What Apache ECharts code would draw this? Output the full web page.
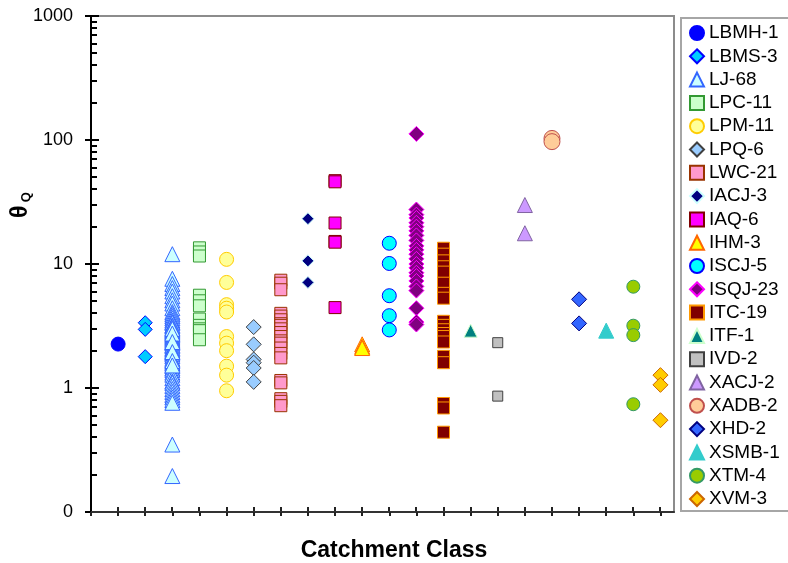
<!DOCTYPE html>
<html>
<head>
<meta charset="utf-8">
<script src="https://cdn.jsdelivr.net/npm/echarts@6/dist/echarts.min.js"></script>
<style>html,body{margin:0;padding:0;background:#fff}#c{width:788px;height:563px}</style>
</head>
<body>
<div id="c"></div>
<script>
// ---- categories (catchment classes) ----
const categories = ['LBMH-1','LBMS-3','LJ-68','LPC-11','LPM-11','LPQ-6','LWC-21','IACJ-3','IAQ-6','IHM-3','ISCJ-5','ISQJ-23','ITC-19','ITF-1','IVD-2','XACJ-2','XADB-2','XHD-2','XSMB-1','XTM-4','XVM-3'];

// ---- series values (theta Q) ----
const LBMH_1 = [2.26];
const LBMS_3 = [3.36, 2.97, 1.79];
const LJ_68 = [12.0, 7.6, 6.9, 6.4, 6.0, 5.5, 5.1, 4.8, 4.4, 4.1, 3.95, 3.8, 3.65, 3.5, 3.4, 3.35, 3.2, 3.15, 3.05, 2.95,
  2.9, 2.85, 2.8, 2.72, 2.66, 2.6, 2.55, 2.5, 2.45, 2.4, 2.33, 2.3, 2.22, 2.18, 2.1, 2.05, 2.0, 1.96, 1.9, 1.86,
  1.8, 1.72, 1.68, 1.6, 1.57, 1.5, 1.44, 1.4, 1.33, 1.28, 1.2, 1.13, 1.1, 1.04, 0.98, 0.93, 0.88, 0.84, 0.8, 0.76,
  3.0, 2.75, 2.35, 1.95, 1.65, 1.52, 0.35, 0.195];
const LPC_11 = [13.5, 12.5, 11.6, 5.6, 5.05, 4.6, 3.6, 3.2, 3.0, 2.9, 2.45];
const LPM_11 = [10.9, 7.1, 4.7, 4.4, 4.1, 2.6, 2.3, 2.0, 1.5, 1.27, 0.95];
const LPQ_6 = [3.1, 2.25, 1.7, 1.6, 1.45, 1.12];
const LWC_21 = [7.4, 7.0, 6.2, 4.0, 3.8, 3.55, 3.3, 3.2, 3.0, 2.8, 2.6, 2.4, 2.3, 2.1, 1.9, 1.75, 1.15, 1.1, 0.82, 0.78, 0.72];
const IACJ_3 = [23.2, 10.6, 7.1];
const IAQ_6 = [47, 46, 21.4, 15.2, 15.0, 4.45];
const IHM_3 = [2.25, 2.15, 2.1];
const ISCJ_5 = [14.7, 10.1, 5.55, 3.83, 2.94];
const ISQJ_23 = [112, 27.5, 25, 23.5, 21.5, 20, 18.5, 17, 15.5, 14, 13, 12, 11, 10, 9.3, 8.5, 8, 7.3, 6.6, 6.1, 4.4, 3.4, 3.25];
const ITC_19 = [13.4, 12, 10.6, 9.5, 8.6, 7.0, 5.8, 5.3, 3.45, 3.2, 2.95, 2.75, 2.6, 2.35, 1.8, 1.6, 0.75, 0.69, 0.44];
const ITF_1 = [2.9];
const IVD_2 = [2.32, 0.86];
const XACJ_2 = [29.9, 17.7];
const XADB_2 = [103, 97];
const XHD_2 = [5.19, 3.32];
const XSMB_1 = [2.9];
const XTM_4 = [6.56, 3.18, 2.67, 0.74];
const XVM_3 = [1.27, 1.06, 0.55];

const seriesValues = [LBMH_1, LBMS_3, LJ_68, LPC_11, LPM_11, LPQ_6, LWC_21, IACJ_3, IAQ_6, IHM_3, ISCJ_5,
  ISQJ_23, ITC_19, ITF_1, IVD_2, XACJ_2, XADB_2, XHD_2, XSMB_1, XTM_4, XVM_3];

// ---- tick values ----
const yMajorTicks = [0.1, 1, 10, 100, 1000];
const yMinorTicks = [0.2,0.3,0.4,0.5,0.6,0.7,0.8,0.9, 2,3,4,5,6,7,8,9, 20,30,40,50,60,70,80,90, 200,300,400,500,600,700,800,900];
const xTicks = [0,1,2,3,4,5,6,7,8,9,10,11,12,13,14,15,16,17,18,19,20,21];

// ---- marker styles: [symbol, size, fill, border] ----
const markerStyles = [
  ['circle', 14, '#0000FF', '#0000FF'],
  ['diamond', 14, '#00CCFF', '#0000FF'],
  ['triangle', 15, '#CCFFFF', '#3366FF'],
  ['rect', 12, '#CCFFCC', '#339933'],
  ['circle', 14, '#FFFF99', '#FFCC00'],
  ['diamond', 15, '#99CCFF', '#404040'],
  ['rect', 12, '#FF99CC', '#993300'],
  ['diamond', 12, '#000080', '#CCFFFF'],
  ['rect', 12, '#FF00FF', '#800000'],
  ['triangle', 15, '#FFFF00', '#FF6600'],
  ['circle', 14, '#00FFFF', '#0000FF'],
  ['diamond', 15, '#800080', '#FF00FF'],
  ['rect', 12, '#800000', '#FF9900'],
  ['triangle', 13, '#008080', '#CCFFCC'],
  ['rect', 10, '#C0C0C0', '#404040'],
  ['triangle', 15, '#CC99FF', '#8064A2'],
  ['circle', 16, '#FFCC99', '#C0504D'],
  ['diamond', 15, '#3366FF', '#000080'],
  ['triangle', 15, '#33CCCC', '#33CCCC'],
  ['circle', 13, '#99CC00', '#339966'],
  ['diamond', 15, '#FFCC00', '#CC6600']
];

const FONT = "'Liberation Sans', Arial, sans-serif";

const series = categories.map((name, i) => ({
  name: name,
  type: 'scatter',
  xAxisIndex: 0,
  yAxisIndex: 0,
  symbol: markerStyles[i][0],
  symbolSize: markerStyles[i][1],
  itemStyle: { color: markerStyles[i][2], borderColor: markerStyles[i][3], borderWidth: 1, opacity: 1 },
  emphasis: { disabled: true },
  data: seriesValues[i].map(v => [i + 1, v])
}));

const titleGraphics = [
  { type: 'text', x: 394, y: 551,
    style: { text: 'Catchment Class', fill: '#000', font: "bold 23px 'Liberation Sans', Arial, sans-serif", align: 'center', verticalAlign: 'middle' } },
  { type: 'text', x: 21, y: 205, rotation: Math.PI / 2,
    style: { text: '{a|θ} {b|Q}', fill: '#000', align: 'center', verticalAlign: 'middle',
      rich: {
        a: { fontSize: 23, fontWeight: 'bold', fontFamily: FONT, fill: '#000', color: '#000' },
        b: { fontSize: 13, fontWeight: 'bold', fontFamily: FONT, fill: '#000', color: '#000', verticalAlign: 'bottom' }
      } } }
];

const chart = echarts.init(document.getElementById('c'));
chart.setOption({
  animation: false,
  backgroundColor: '#ffffff',
  grid: { left: 91, right: 114, top: 16, bottom: 51, show: true, borderColor: '#8c8c8c', borderWidth: 2 },
  xAxis: [
    { type: 'value', min: 0, max: 21.5, interval: 1, position: 'bottom',
      axisLine: { show: true, onZero: false, lineStyle: { color: '#333333', width: 2 } },
      axisTick: { show: true, inside: false, length: 4, customValues: xTicks, lineStyle: { color: '#222', width: 2 } },
      axisLabel: { show: false }, splitLine: { show: false } }
  ],
  yAxis: [
    { type: 'log', logBase: 10, min: 0.1, max: 1000, position: 'left',
      axisLine: { show: true, onZero: false, lineStyle: { color: '#000', width: 2 } },
      axisTick: { show: true, inside: false, length: 6, lineStyle: { color: '#000', width: 2 } },
      axisLabel: { show: true, margin: 18, fontSize: 18, color: '#000', fontFamily: FONT,
        formatter: v => (v < 0.5 ? '0' : String(Math.round(v))) },
      splitLine: { show: false } }
  ],
  legend: {
    data: categories,
    orient: 'vertical',
    left: 681, top: 18,
    padding: [5, 10, 2, 8],
    itemWidth: 14, itemHeight: 14,
    itemGap: 3.3,
    borderColor: '#a6a6a6', borderWidth: 2,
    selectedMode: false,
    textStyle: { fontSize: 19, color: '#000', fontFamily: FONT, lineHeight: 20 }
  },
  graphic: titleGraphics,
  series: series
});

// inner tick marks (Excel-style crossing major ticks + minor log ticks), positioned via the chart's own axis scales
const finder = { xAxisIndex: 0, yAxisIndex: 0 };
const tickLines = [];
function tickLine(x1, y1, x2, y2, color) {
  tickLines.push({ type: 'line',
    shape: { x1: x1, y1: y1, x2: x2, y2: y2 },
    style: { stroke: color, lineWidth: 2 } });
}
yMinorTicks.forEach(v => {
  const p = chart.convertToPixel(finder, [0, v]);
  const y = Math.round(p[1]);
  tickLine(p[0], y, p[0] + 6, y, '#000');
});
yMajorTicks.forEach(v => {
  const p = chart.convertToPixel(finder, [0, v]);
  const y = Math.round(p[1]);
  tickLine(p[0], y, p[0] + 8, y, '#000');
});
xTicks.forEach(v => {
  const p = chart.convertToPixel(finder, [v, yMajorTicks[0]]);
  const x = Math.round(p[0]);
  tickLine(x, p[1], x, p[1] - 5, '#222');
});
chart.setOption({ graphic: titleGraphics.concat(tickLines) });
</script>
</body>
</html>
